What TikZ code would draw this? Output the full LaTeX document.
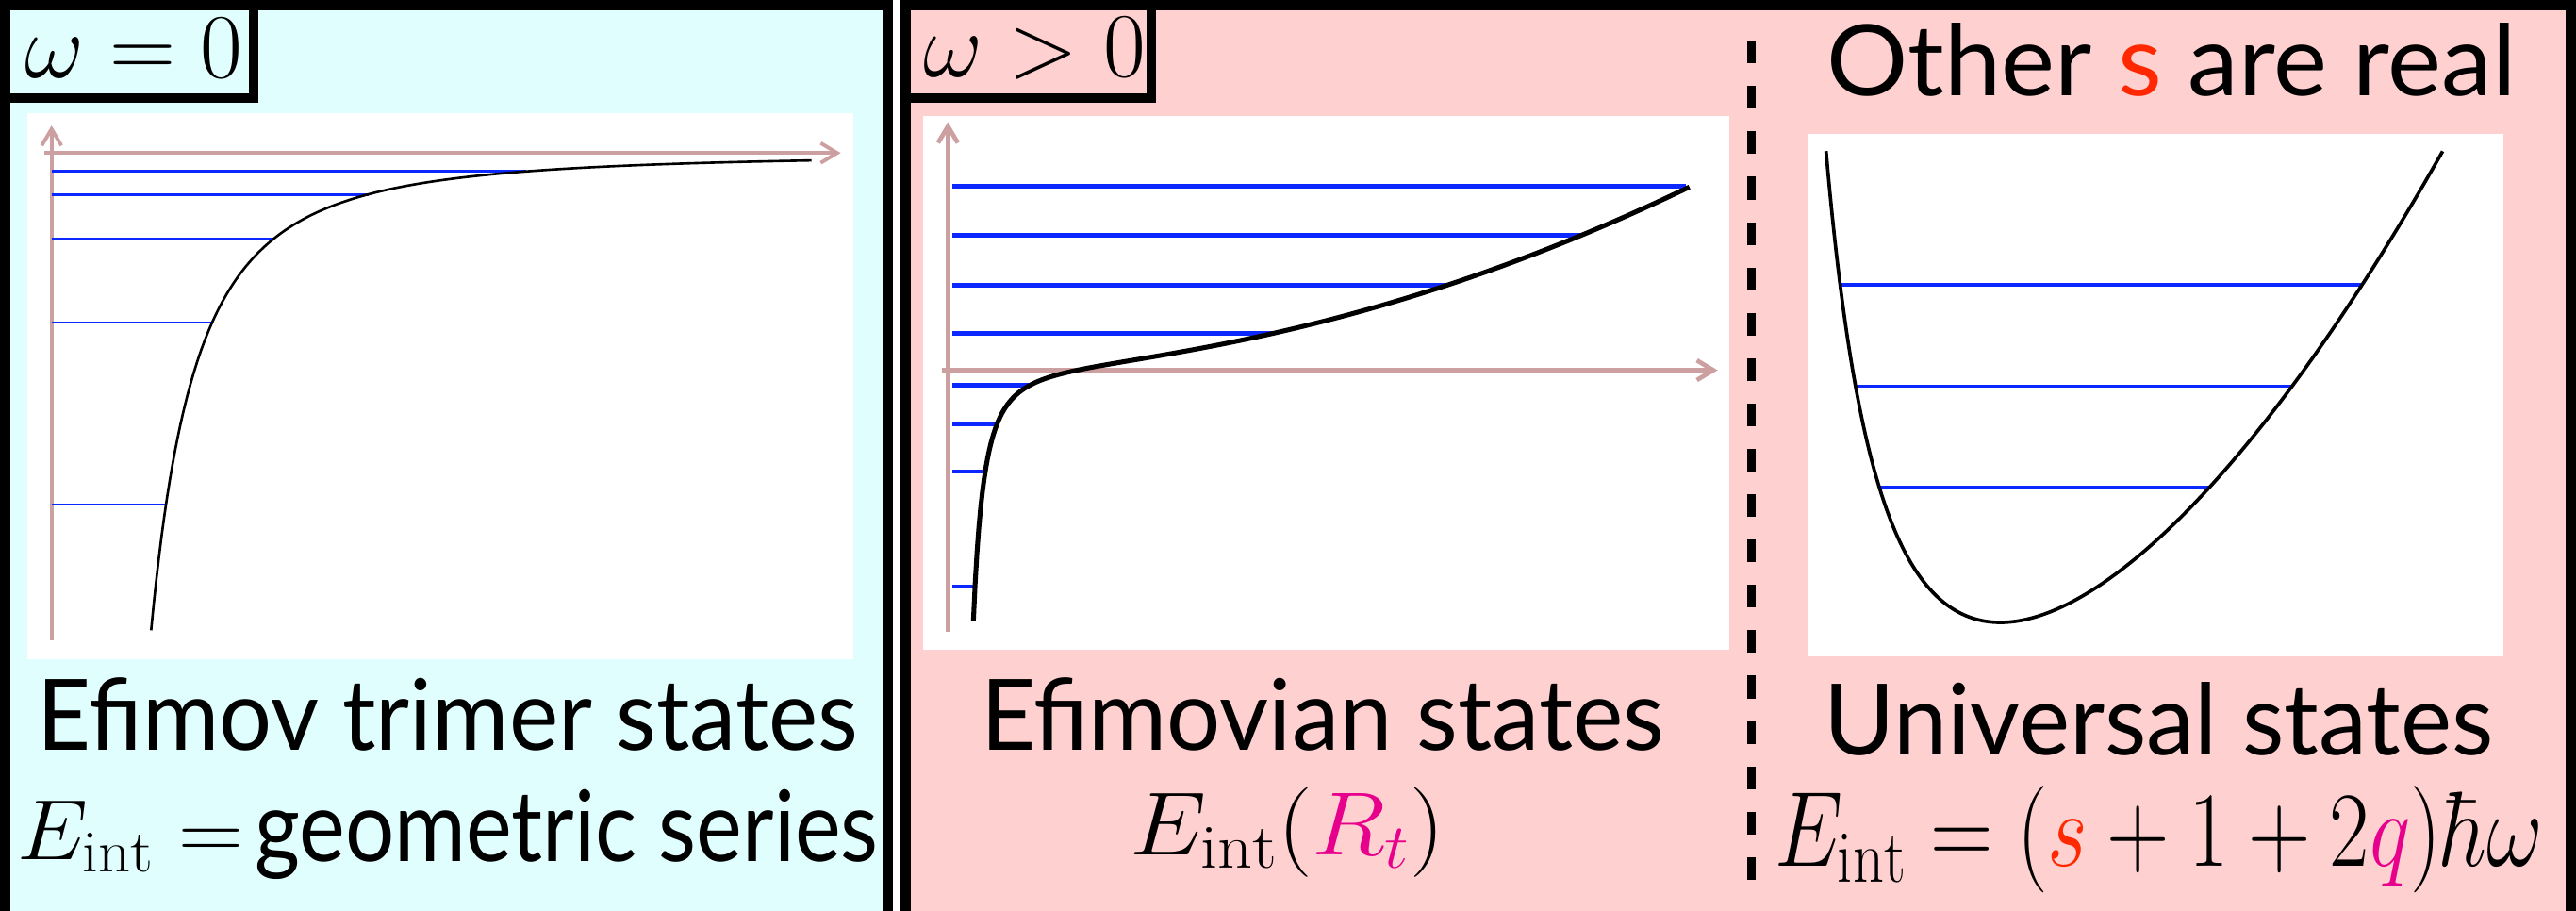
\RequirePackage{fix-cm}
\documentclass[tikz,border=0pt]{standalone}
\usepackage{fontspec}
\usepackage{graphicx}
\usetikzlibrary{arrows.meta}
\newfontfamily\gs{Lato}
\definecolor{cyanbg}{RGB}{224,254,254}
\definecolor{pinkbg}{RGB}{255,208,208}
\definecolor{lvl}{RGB}{10,40,255}
\definecolor{axc}{RGB}{204,160,160}
\definecolor{sred}{RGB}{255,40,0}
\definecolor{qmag}{RGB}{230,0,140}
\newsavebox\fitbox
\newlength\fitlen
\newcommand\fitto[2]{\sbox\fitbox{#2}\setlength\fitlen{\wd\fitbox}\pgfmathsetmacro\fitsx{#1/\fitlen}\scalebox{\fitsx}[1]{\usebox\fitbox}}
\begin{document}
\begin{tikzpicture}[x=1pt,y=-1pt,
  declare function={hl(\t)=930/(\t-37.4); hm(\t)=157/\t; vr(\t)=0.04512*\t-1383.4/\t;},
  panel/.style={line width=6.2pt},
  wbox/.style={draw, line width=5.8pt},
  axisline/.style={draw=axc, line width=2.2pt, -{Straight Barb[length=10pt,width=12pt]}},
  lvline/.style={draw=lvl},
  txt/.style={inner sep=0pt, anchor=base},
]
\useasboundingbox (0,0) rectangle (1568,554);
\clip (0,0) rectangle (1568,554);
\fill[white] (0,0) rectangle (1568,554);
% panels
\draw[panel, fill=cyanbg] (3.1,3.1) rectangle (540.3,570);
\draw[panel, fill=pinkbg] (551.3,3.1) rectangle (1564.9,570);
% plot backgrounds
\fill[white] (16.7,68.7) rectangle (519.3,401);
\fill[white] (562,70.4) rectangle (1052.4,395.5);
\fill[white] (1100.9,81.5) rectangle (1523.8,399.6);
% omega boxes
\draw[wbox] (3.1,3.1) rectangle (154.5,59.6);
\draw[wbox] (551.3,3.1) rectangle (701,59.6);
\node[txt] (w0) at (81.5,47.5) {\fontsize{55.8}{60}\selectfont$\omega=0$};
\node[txt] (w1) at (629.7,47) {\fontsize{55.8}{60}\selectfont$\omega>0$};
% left plot
\draw[axisline] (31.4,389.6) -- (31.4,76.4);
\draw[axisline] (27.2,93.1) -- (511.7,93.1);
\foreach \yy in {104.3,118.3,145.3,196.3,307}
  \draw[lvline, line width=1.6pt] (31.4,\yy) -- ({37.4+930/sqrt(\yy-93.5)},\yy);
\draw[line width=1.5pt] plot[domain=92:494, samples=250] (\x,{93.5+hl(\x)*hl(\x)});
% middle plot
\draw[axisline, line width=2.7pt] (577,384.5) -- (577,74.3);
\draw[axisline, line width=2.7pt] (573.4,225.3) -- (1045.5,225.3);
\foreach \yy/\xx in {113.5/1026,143/962.9,173.5/881,202.8/775,234.4/627,258/606.9,287/599.7,357/593.5}
  \draw[lvline, line width=2.7pt] (579.8,\yy) -- (\xx,\yy);
\draw[line width=2.9pt, line join=round] plot[domain=12.7:448.5, samples=400] ({579.8+\x},{225.3+hm(\x)*hm(\x)-0.01767*\x-(0.02271*\x)*(0.02271*\x)});
% dashed separator
\draw[line width=4.8pt, dash pattern=on 13.8pt off 13.8pt] (1066,24.8) -- (1066,536);
% right plot
\foreach \yy/\xa/\xb in {173.5/1120.1/1437.6,235/1129.4/1395.2,296.8/1144/1344.7}
  \draw[lvline, line width=2.2pt] (\xa,\yy) -- (\xb,\yy);
\draw[line width=2.1pt] plot[domain=69:444.3, samples=300] ({1042.5+\x},{378.8-vr(\x)*vr(\x)});
% texts
\node[txt] (t5) at (1321.8,58.5) {\fitto{419.6}{\gs\fontsize{60}{70}\selectfont Other {\color{sred}s} are real}};
\node[txt] (t1) at (272.5,456.4) {\fitto{500}{\gs\fontsize{60}{70}\selectfont Efimov trimer states}};
\node[txt] (m1) at (79.4,523) {\fitto{137.8}{\fontsize{52}{60}\selectfont$E_{\mathrm{int}}=$}};
\node[txt] (t2) at (344.9,524) {\fitto{379.8}{\gs\fontsize{60}{70}\selectfont geometric series}};
\node[txt] (t3) at (805,456.4) {\fitto{416}{\gs\fontsize{60}{70}\selectfont Efimovian states}};
\node[txt] (m2) at (783.6,520.1) {\fitto{191.4}{\fontsize{54.6}{60}\selectfont$E_{\mathrm{int}}({\color{qmag}R_t})$}};
\node[txt] (t4) at (1313.9,459.2) {\fitto{407.8}{\gs\fontsize{60}{70}\selectfont Universal states}};
\node[txt] (m3) at (1314.1,527.2) {\fitto{467.8}{\fontsize{65}{70}\selectfont$E_{\mathrm{int}}=({\color{sred}s}+1+2{\color{qmag}q})\hbar\omega$}};
\end{tikzpicture}
\end{document}
